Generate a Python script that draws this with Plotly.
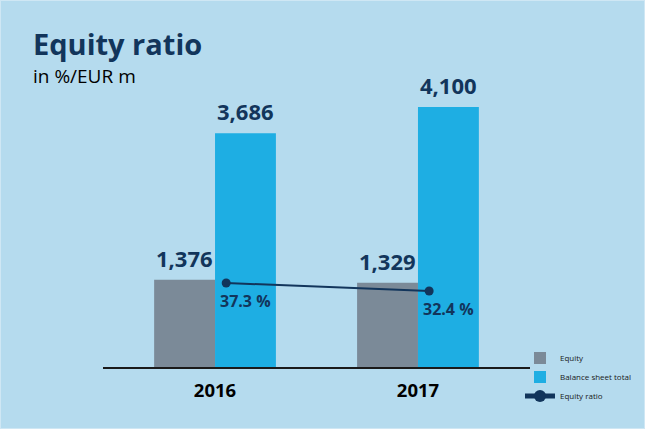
import plotly.graph_objects as go

years = ["2016", "2017"]
xpos = [0, 1]
equity = [1376, 1329]
balance_total = [3686, 4100]
equity_ratio = [37.3, 32.4]
equity_labels = ["1,376", "1,329"]
balance_labels = ["3,686", "4,100"]
ratio_labels = ["37.3 %", "32.4 %"]

NAVY = "#12355b"
GRAY = "#7b8a98"
BLUE = "#1eaee3"
BG = "#b5dbee"
RATIO_DX = 0.055

fig = go.Figure()
fig.add_trace(go.Bar(
    x=xpos, y=equity, name="Equity", marker=dict(color=GRAY, line=dict(width=0)),
    hoverinfo="skip"))
fig.add_trace(go.Bar(
    x=xpos, y=balance_total, name="Balance sheet total", marker=dict(color=BLUE, line=dict(width=0)),
    hoverinfo="skip"))
fig.add_trace(go.Scatter(
    x=[v + RATIO_DX for v in xpos], y=equity_ratio, name="Equity ratio", yaxis="y2",
    mode="lines+markers", line=dict(color=NAVY, width=2),
    marker=dict(color=NAVY, size=9),
    cliponaxis=False, hoverinfo="skip"))

annotations = [
    dict(text="<b>Equity ratio</b>", xref="paper", yref="paper", x=-103/427, y=1 + 56/267,
         xanchor="left", yanchor="middle", showarrow=False,
         font=dict(family="Open Sans", size=29, color=NAVY), xshift=31),
    dict(text="in %/EUR m", xref="paper", yref="paper", x=-103/427, y=1 + 24/267,
         xanchor="left", yanchor="middle", showarrow=False,
         font=dict(family="Open Sans", size=19, color="black"), xshift=31),
]
# bar value labels (equity: left bar of group, balance: right bar of group)
for xv, yv, lab in zip(xpos, equity, equity_labels):
    annotations.append(dict(
        text="<b>%s</b>" % lab, x=xv - 0.15, y=yv, xref="x", yref="y",
        xanchor="center", yanchor="bottom", showarrow=False, yshift=5,
        font=dict(family="Open Sans", size=22, color=NAVY)))
for xv, yv, lab in zip(xpos, balance_total, balance_labels):
    annotations.append(dict(
        text="<b>%s</b>" % lab, x=xv + 0.15, y=yv, xref="x", yref="y",
        xanchor="center", yanchor="bottom", showarrow=False, yshift=5,
        font=dict(family="Open Sans", size=22, color=NAVY)))
for xv, yv, lab in zip(xpos, equity_ratio, ratio_labels):
    annotations.append(dict(
        text="<b>%s</b>" % lab, x=xv + RATIO_DX, y=yv, xref="x", yref="y2",
        xanchor="center", yanchor="middle", showarrow=False, xshift=19, yshift=-18,
        font=dict(family="Open Sans", size=16, color=NAVY)))

fig.update_layout(
    width=645, height=429,
    paper_bgcolor=BG, plot_bgcolor=BG,
    margin=dict(l=103, r=115, t=100, b=62, autoexpand=False),
    barmode="group", bargap=0.4, bargroupgap=0,
    font=dict(family="Open Sans", color="black"),
    xaxis=dict(range=[-0.552, 1.552], tickvals=xpos, ticktext=years,
               tickfont=dict(size=18.5, color="black", weight="bold"),
               ticklabelstandoff=6,
               showgrid=False, zeroline=False, showline=True, linecolor="#1a1a1a",
               linewidth=1.5, ticks="", fixedrange=True),
    yaxis=dict(range=[0, 4210], visible=False, showgrid=False, fixedrange=True),
    yaxis2=dict(range=[-14.14, 149.4], overlaying="y", visible=False, showgrid=False,
                fixedrange=True),
    showlegend=True,
    legend=dict(x=(520 - 103) / 427, xanchor="left", y=-10/267, yanchor="middle",
                font=dict(size=8, color="#1a1a1a"), bgcolor="rgba(0,0,0,0)",
                tracegroupgap=0, itemsizing="constant", itemwidth=30),
    annotations=annotations,
    shapes=[dict(type="rect", xref="paper", yref="paper", x0=-103/427, x1=1 + 115/427,
                 y0=-62/267, y1=1 + 100/267, line=dict(color="#cfe7f4", width=2))],
)

fig.write_html("out.html", config={"displayModeBar": False},
               post_script="document.body.style.margin='0';")
